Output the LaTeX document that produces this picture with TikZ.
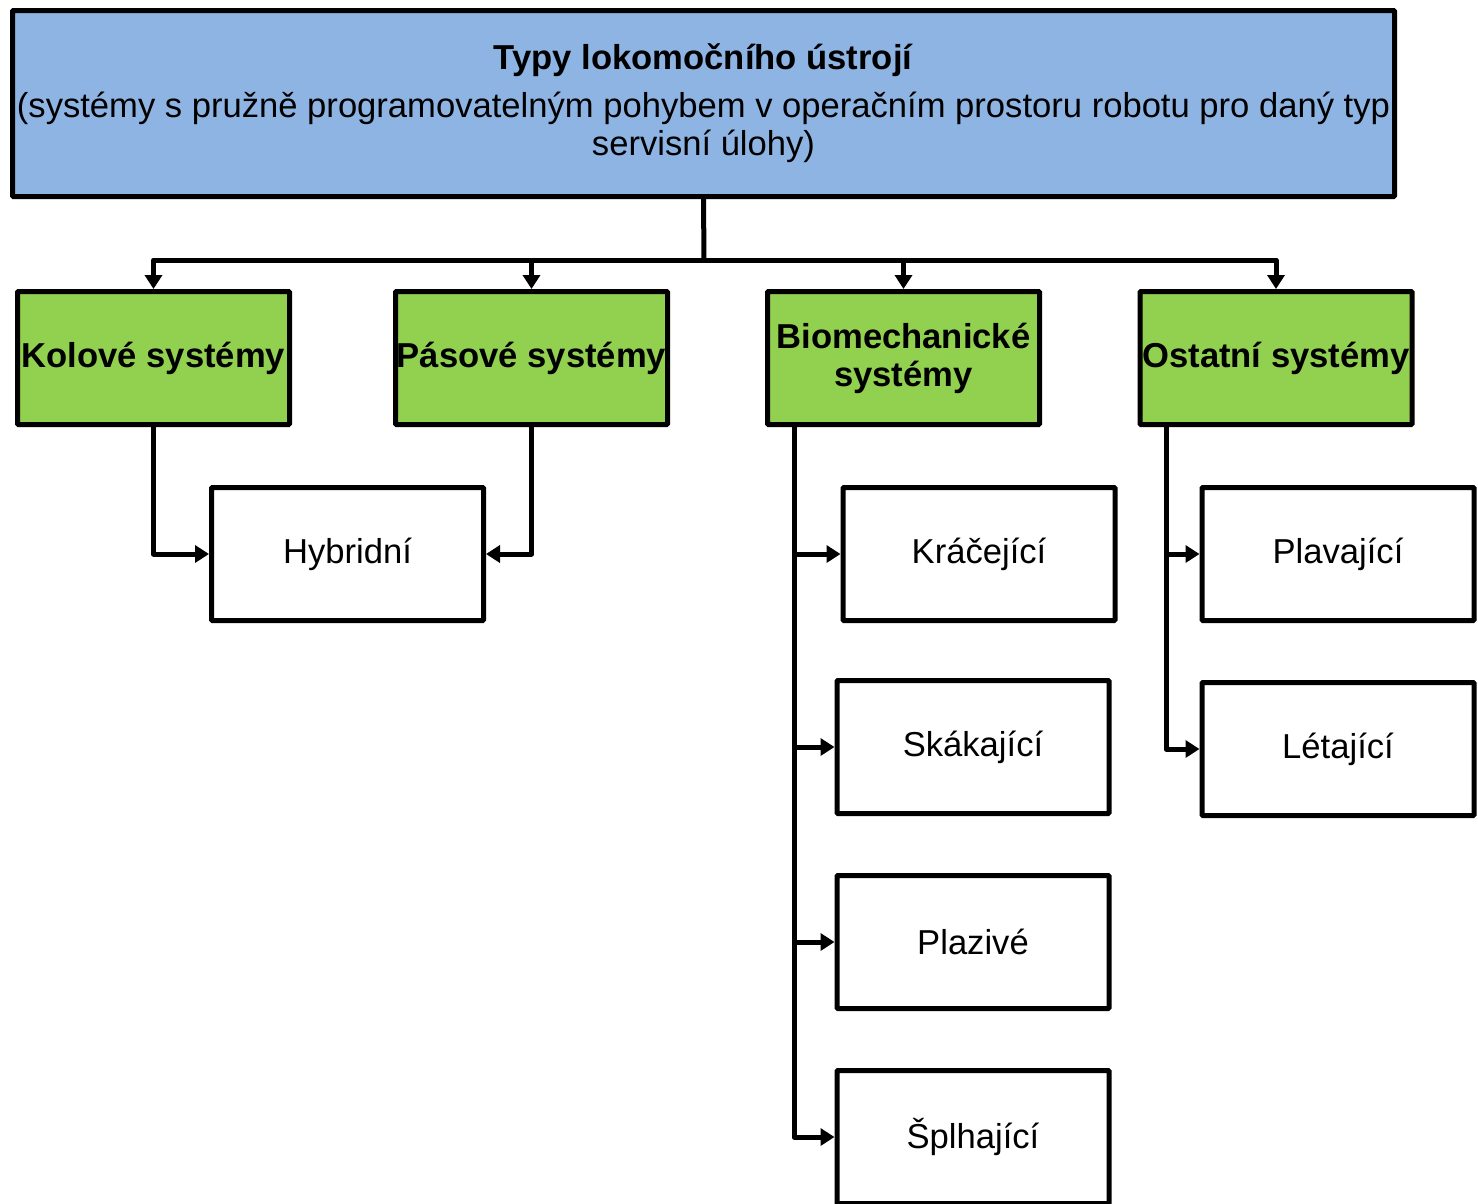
\documentclass[tikz,border=0pt]{standalone}
\usepackage{fontspec}
\setmainfont{Liberation Sans}
\usetikzlibrary{arrows.meta}
\definecolor{topblue}{HTML}{8EB4E3}
\definecolor{catgreen}{HTML}{92D050}
\begin{document}
\begin{tikzpicture}[x=1pt,y=-1pt,
  box/.style={draw=black, line width=5pt, rounded corners=1pt, minimum width=272pt, minimum height=133pt, inner sep=0pt, align=center, text=black, font=\fontsize{34.6}{38}\selectfont},
  catbox/.style={box, fill=catgreen, font=\fontsize{34.6}{38}\selectfont\bfseries},
  leaf/.style={box, fill=white},
  conn/.style={draw=black, line width=5pt, line join=round},
  arr/.style={conn, -{Triangle[length=14pt,width=17pt]}}]
\useasboundingbox (0,0) rectangle (1478,1203);
\fill[white] (0,0) rectangle (1478,1203);

\node[box, fill=topblue, minimum width=1382pt, minimum height=186pt] (top) at (703.5,103.5)
  {\textbf{Typy lokomočního ústrojí}\\[10pt](systémy s pružně programovatelným pohybem v operačním prostoru robotu pro daný typ\\servisní úlohy)};

\node[catbox] (kol) at (153.5,358) {Kolové systémy};
\node[catbox] (pas) at (531.5,358) {Pásové systémy};
\node[catbox] (bio) at (903.5,358) {Biomechanické\\systémy};
\node[catbox] (ost) at (1276,358) {Ostatní systémy};

\node[leaf] (hyb) at (347.5,554) {Hybridní};
\node[leaf] (kra) at (979,554) {Kráčející};
\node[leaf] (ska) at (973,747) {Skákající};
\node[leaf] (pla) at (973,942) {Plazivé};
\node[leaf] (spl) at (973,1137) {Šplhající};
\node[leaf] (plv) at (1338,554) {Plavající};
\node[leaf] (let) at (1338,749) {Létající};

\coordinate (bus) at (704,260);
\draw[conn] (top.south) -- (bus);
\draw[arr] (bus) -| (kol.north);
\draw[arr] (bus) -| (pas.north);
\draw[arr] (bus) -| (bio.north);
\draw[arr] (bus) -| (ost.north);

\draw[arr] (kol.south) |- (hyb.west);
\draw[arr] (pas.south) |- (hyb.east);

\coordinate (biotrunk) at (794,427);
\draw[arr] (biotrunk) |- (kra.west);
\draw[arr] (biotrunk) |- (ska.west);
\draw[arr] (biotrunk) |- (pla.west);
\draw[arr] (biotrunk) |- (spl.west);

\coordinate (osttrunk) at (1166,427);
\draw[arr] (osttrunk) |- (plv.west);
\draw[arr] (osttrunk) |- (let.west);
\end{tikzpicture}
\end{document}
